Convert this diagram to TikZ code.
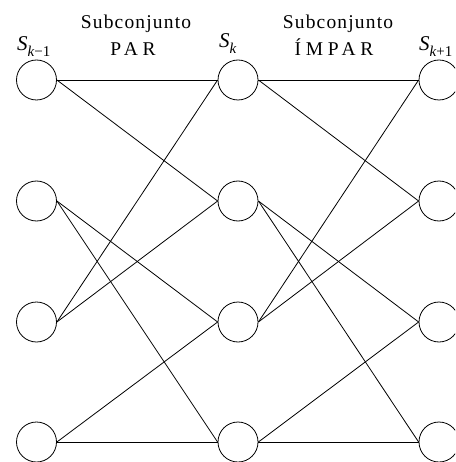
\documentclass[tikz,border=0pt]{standalone}
\usepackage{fontspec}
\setmainfont{Liberation Serif}
\newfontfamily\spaced[LetterSpace=6]{Liberation Serif}
\newfontfamily\spacedcaps[LetterSpace=24]{Liberation Serif}
\newcommand{\subidx}[1]{\raisebox{-5.5pt}{\fontsize{15}{15}\selectfont #1}}
\begin{document}
\begin{tikzpicture}[x=1pt,y=-1pt,
  st/.style={circle,draw,line width=0.8pt,minimum size=40pt,inner sep=0pt},
  ln/.style={line width=0.8pt},
  lbl/.style={anchor=base west,inner sep=0pt,font=\fontsize{21}{21}\selectfont\itshape},
  sub/.style={anchor=base,inner sep=0pt,font=\spaced\fontsize{19.5}{19.5}\selectfont},
  caps/.style={anchor=base,inner sep=0pt,font=\spacedcaps\fontsize{19.5}{19.5}\selectfont}]
\useasboundingbox (0,0) rectangle (455,462);
\begin{scope}
\clip (0,0) rectangle (455,462);
\foreach \c/\x in {a/36.5,b/238,c/439}{
  \foreach \r/\y in {1/80,2/201,3/322,4/442}{
    \node[st] (\c\r) at (\x,\y) {};
  }
}
\foreach \f/\t in {a/b,b/c}{
  \draw[ln] (\f1.east) -- (\t1.west);
  \draw[ln] (\f1.east) -- (\t2.west);
  \draw[ln] (\f2.east) -- (\t3.west);
  \draw[ln] (\f2.east) -- (\t4.west);
  \draw[ln] (\f3.east) -- (\t1.west);
  \draw[ln] (\f3.east) -- (\t2.west);
  \draw[ln] (\f4.east) -- (\t3.west);
  \draw[ln] (\f4.east) -- (\t4.west);
}
\end{scope}
\node[lbl] (l1) at (17,51) {S\subidx{k\upshape −1}};
\node[lbl] (l2) at (219,48) {S\subidx{k}};
\node[lbl] (l3) at (419,51) {S\subidx{k\upshape +1}};
\node[sub] (t1) at (136,29) {Subconjunto};
\node[caps] (t2) at (133,56) {PAR};
\node[sub] (t3) at (338,29) {Subconjunto};
\node[caps] (t4) at (334,56) {ÍMPAR};
\end{tikzpicture}
\end{document}
